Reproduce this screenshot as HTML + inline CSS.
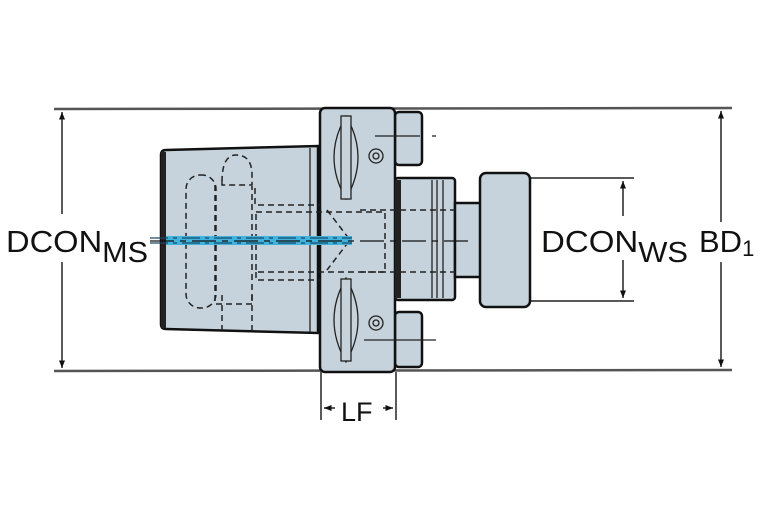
<!DOCTYPE html>
<html><head><style>body{margin:0;background:#fff}svg{display:block}</style></head><body>
<svg width="767" height="523" viewBox="0 0 767 523" xmlns="http://www.w3.org/2000/svg" font-family="Liberation Sans, sans-serif">
<defs><marker id="a" viewBox="0 0 10 10" refX="10" refY="5" markerWidth="5" markerHeight="8" orient="auto-start-reverse"><path d="M0,1L10,5L0,9z" fill="#111"/></marker></defs>
<g stroke="#555" stroke-width="2.5" fill="none">
<line x1="54" y1="109" x2="732" y2="108"/>
<line x1="54" y1="371" x2="732" y2="370"/>
</g>
<g stroke="#222" stroke-width="1.5" fill="none">
<line x1="530" y1="178" x2="634" y2="178"/>
<line x1="530" y1="301" x2="634" y2="301"/>
<line x1="321" y1="372" x2="321" y2="420"/>
<line x1="396" y1="372" x2="396" y2="420"/>
<line x1="62" y1="112" x2="62" y2="214" marker-start="url(#a)"/>
<line x1="62" y1="262" x2="62" y2="368" marker-end="url(#a)"/>
<line x1="721" y1="111" x2="721" y2="222" marker-start="url(#a)"/>
<line x1="721" y1="262" x2="721" y2="367" marker-end="url(#a)"/>
<line x1="623" y1="181" x2="623" y2="216" marker-start="url(#a)"/>
<line x1="623" y1="260" x2="623" y2="298" marker-end="url(#a)"/>
<line x1="335" y1="408" x2="324" y2="408" marker-end="url(#a)"/>
<line x1="383" y1="408" x2="393" y2="408" marker-end="url(#a)"/>
</g>
<g stroke="#111" stroke-width="2.5" fill="#c6d3dc">
<path d="M166,150 L318,146 L318,333 L166,329 Q161,329 161,324 L161,155 Q161,150 166,150z"/>
<rect x="395" y="178" width="60" height="122" rx="3"/>
<rect x="455" y="203" width="26" height="74"/>
<rect x="480" y="173" width="50" height="134" rx="6"/>
<rect x="395" y="112" width="27" height="53" rx="4"/>
<rect x="395" y="312" width="27" height="55" rx="4"/>
<rect x="320" y="108" width="75" height="264" rx="5"/>
</g>
<rect x="161" y="152" width="5" height="176" fill="#222"/>
<rect x="395" y="180" width="6" height="118" fill="#222"/>
<g stroke="#222" stroke-width="1.3" fill="none">
<line x1="310" y1="148" x2="310" y2="332"/>
<line x1="432" y1="180" x2="432" y2="298"/><line x1="437" y1="180" x2="437" y2="298"/><line x1="443" y1="180" x2="443" y2="298"/>
<path d="M346,116 Q322,157 346,199 Q370,157 346,116z"/>
<rect x="341" y="116" width="10" height="83" fill="#c6d3dc"/>
<path d="M346,278 Q322,320 346,362 Q370,320 346,278z"/>
<rect x="341" y="279" width="10" height="82" fill="#c6d3dc"/>
<circle cx="376" cy="156" r="7"/><circle cx="376" cy="156" r="3"/>
<circle cx="376" cy="323" r="7"/><circle cx="376" cy="323" r="3"/>
<line x1="375" y1="136" x2="420" y2="136"/><line x1="364" y1="340" x2="436" y2="340"/>
<line x1="432" y1="136" x2="436" y2="136"/>
</g>
<g stroke="#222" stroke-width="1.5" fill="none" stroke-dasharray="6,4">
<rect x="186" y="175" width="30" height="133" rx="14"/>
<path d="M215,185 L215,304 L252,304 L252,186"/>
<path d="M222,182 Q222,155 236,155 Q252,155 252,175 L252,185 L222,185z"/>
<path d="M255,188 L255,205 L320,205"/>
<path d="M256,212 L385,212 L385,272 L256,272z"/>
<path d="M256,272 L256,280 L320,280"/>
<path d="M222,295 L222,330"/><path d="M252,295 L252,330"/>
<path d="M327,210 L350,240 L327,270"/>
<path d="M360,210 L455,210"/><path d="M360,272 L455,272"/>
</g>
<rect x="166" y="236" width="186" height="9" fill="#3fb3de"/>
<g stroke="#1a4a66" stroke-width="1.3" stroke-dasharray="18,5,4,5">
<line x1="150" y1="238" x2="352" y2="238"/><line x1="150" y1="243" x2="352" y2="243"/>
</g>
<line x1="150" y1="241" x2="470" y2="241" stroke="#111" stroke-width="1.2" stroke-dasharray="24,6,6,6"/>
<g fill="#111">
<text x="6" y="252" font-size="31" textLength="142" lengthAdjust="spacingAndGlyphs">DCON<tspan font-size="29" dy="10">MS</tspan></text>
<text x="541" y="252" font-size="31" textLength="147" lengthAdjust="spacingAndGlyphs">DCON<tspan font-size="29" dy="10">WS</tspan></text>
<text x="699" y="252" font-size="31">BD<tspan font-size="22" dy="4">1</tspan></text>
<text x="341" y="421" font-size="27">LF</text>
</g>
</svg>
</body></html>
